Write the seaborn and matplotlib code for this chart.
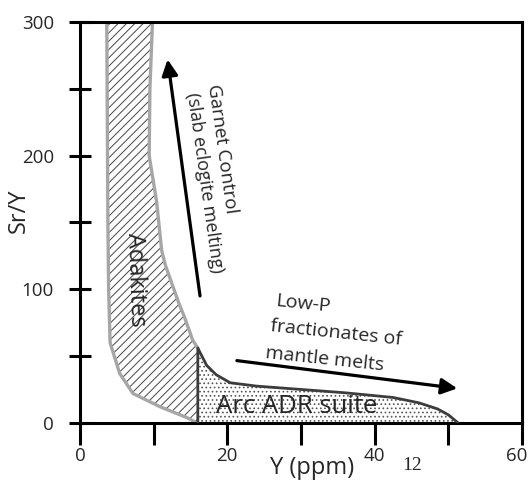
import numpy as np
import pandas as pd
import matplotlib.pyplot as plt
import matplotlib.transforms as mtransforms
import seaborn as sns

# --- data --------------------------------------------------------------------
# Adakite field: left edge (top -> bottom), right edge (bottom -> top)
adak_left_x = [3.65, 3.8, 3.9, 4.1, 5.4, 7.2, 10.9, 14.5, 15.9]
adak_left_y = [300, 150, 100, 60, 37, 22, 12, 4, 0]
adak_right_x = [16.0, 16.0, 15.3, 14.2, 13.4, 12.5, 11.6, 11.1, 10.4, 9.4, 9.5, 9.85]
adak_right_y = [0, 56, 62, 79, 90, 104, 118, 129, 166, 200, 250, 300]

# Arc ADR suite field: upper edge, left -> right
arc_x = [16.0, 16.0, 17.2, 18.5, 20.4, 24.0, 30.0, 36.0, 42.5, 46.0, 48.5, 50.0, 51.3]
arc_y = [0, 56, 43, 36, 30, 27.5, 25, 22.5, 19, 15, 10.5, 6, 0]

# trend arrows (tail, head)
garnet_arrow = [(16.3, 95), (11.9, 272)]
lowp_arrow = [(21.3, 46.6), (51.2, 25.8)]

x_ticks = [0, 10, 20, 30, 40, 50, 60]
x_labels = ["0", "", "20", "", "40", "", "60"]
y_ticks = [0, 50, 100, 150, 200, 250, 300]
y_labels = ["0", "", "100", "", "200", "", "300"]

# --- style -------------------------------------------------------------------
sns.set_style("white")
plt.rcParams["font.family"] = ["Open Sans", "DejaVu Sans"]
plt.rcParams["hatch.linewidth"] = 0.7

fig = plt.figure(figsize=(5.29, 4.9), dpi=100)
fig.subplots_adjust(left=0.151, right=0.987, bottom=0.137, top=0.955)
ax = fig.add_subplot(111)

# hatched fills
ax.fill(adak_left_x + adak_right_x, adak_left_y + adak_right_y,
        facecolor="white", edgecolor="#444444", hatch="////", lw=0, zorder=1)
ax.fill(arc_x, arc_y, facecolor="white", edgecolor="#555555",
        hatch="....", lw=0, zorder=1)

# outlines
left_df = pd.DataFrame({"x": adak_left_x, "y": adak_left_y})
right_df = pd.DataFrame({"x": adak_right_x[1:], "y": adak_right_y[1:]})
arc_df = pd.DataFrame({"x": arc_x, "y": arc_y})
sns.lineplot(data=left_df, x="x", y="y", sort=False, estimator=None,
             color="#a6a6a6", lw=2.4, ax=ax, zorder=2)
sns.lineplot(data=right_df, x="x", y="y", sort=False, estimator=None,
             color="#a6a6a6", lw=2.4, ax=ax, zorder=2)
sns.lineplot(data=arc_df, x="x", y="y", sort=False, estimator=None,
             color="#3c3c3c", lw=2.0, ax=ax, zorder=3)

# arrows
for tail, head in [garnet_arrow, lowp_arrow]:
    ax.annotate("", xy=head, xytext=tail,
                arrowprops=dict(arrowstyle="-|>", color="black", lw=2.3,
                                mutation_scale=24, shrinkA=0, shrinkB=0))

# labels inside the plot
ax.text(7.6, 107, "Adakites", rotation=-88, ha="center", va="center",
        fontsize=17, rotation_mode="anchor")
ax.text(19.3, 205, "Garnet Control", rotation=-82, ha="center", va="center",
        fontsize=13.5, rotation_mode="anchor")
ax.text(16.9, 180, "(slab eclogite melting)", rotation=-82, ha="center",
        va="center", fontsize=13, rotation_mode="anchor")
ax.text(26.5, 87.6, "Low-P", rotation=-6, ha="left", va="baseline",
        fontsize=14, rotation_mode="anchor")
ax.text(25.8, 68.9, "fractionates of", rotation=-6, ha="left", va="baseline",
        fontsize=14, rotation_mode="anchor")
ax.text(25.1, 48.9, "mantle melts", rotation=-6, ha="left", va="baseline",
        fontsize=14, rotation_mode="anchor")
ax.text(29.4, 12.4, "Arc ADR suite", ha="center", va="center", fontsize=18.5)

# axes
ax.set_xlim(0, 60)
ax.set_ylim(0, 300)
ax.set_xticks(x_ticks)
ax.set_xticklabels(x_labels)
ax.set_yticks(y_ticks)
ax.set_yticklabels(y_labels)
ax.tick_params(axis="x", bottom=True, direction="out", length=16, width=2.2,
               pad=1.5, labelsize=13.5, color="black")
ax.tick_params(axis="y", left=True, direction="inout", length=16.5, width=2.2,
               pad=10.5, labelsize=13.5, color="black")
for sp in ax.spines.values():
    sp.set_color("black")
    sp.set_linewidth(2.2)

# last x label sits a little inside the figure edge
last = ax.get_xticklabels()[-1]
last.set_transform(last.get_transform()
                   + mtransforms.ScaledTranslation(-5 / 100, 0, fig.dpi_scale_trans))

ax.set_xlabel("Y (ppm)", fontsize=17)
ax.set_ylabel("Sr/Y", fontsize=17)
ax.xaxis.set_label_coords(0.525, -0.083)
ax.yaxis.set_label_coords(-0.112, 0.53)

fig.text(0.779, 0.049, "12", family="Liberation Serif", fontsize=14,
         ha="center", va="center")

fig.savefig("out.png", dpi=100)
